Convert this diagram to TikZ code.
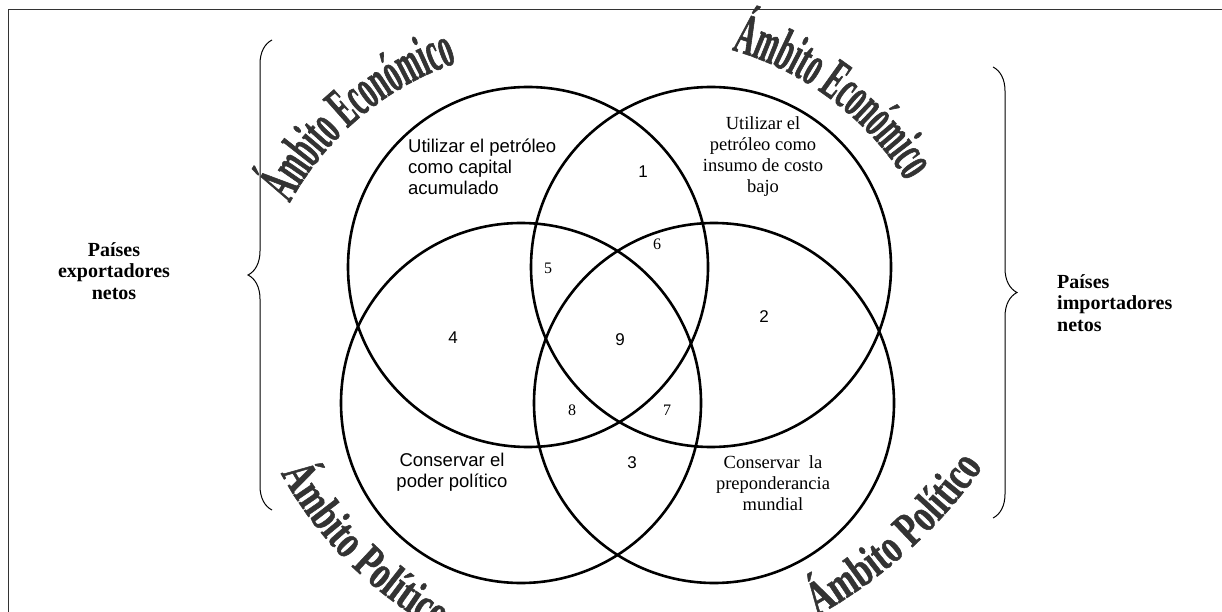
\documentclass[tikz,border=0pt]{standalone}
\usepackage{fontspec}
\setmainfont{Liberation Serif}
\newfontfamily\arialfont{Liberation Sans}
\newfontfamily\econfont[FakeStretch=0.47,FakeBold=1]{Liberation Serif}
\newfontfamily\polfont[FakeStretch=0.7,FakeBold=1]{Liberation Serif}
\usepackage{tikz}
\usetikzlibrary{decorations.text,decorations.pathreplacing,positioning,shapes}
\definecolor{wordart}{RGB}{51,51,51}

\begin{document}
\begin{tikzpicture}[x=1pt,y=1pt]

    \tikzstyle{ring} = [draw, circle, line width=2.6pt, minimum size=360pt, inner sep=0pt]
    \tikzstyle{sanstxt} = [font=\arialfont\fontsize{18.5}{21}\selectfont, inner sep=0pt]
    \tikzstyle{seriftxt} = [font=\fontsize{18.5}{21}\selectfont, align=center, inner sep=0pt]
    \tikzstyle{sansnum} = [font=\arialfont\fontsize{17}{17}\selectfont]
    \tikzstyle{serifnum} = [font=\fontsize{16}{16}\selectfont]
    \tikzstyle{pais} = [font=\bfseries\fontsize{20}{21.5}\selectfont, inner sep=0pt]
    \tikzstyle{arch} = [decorate, decoration={text along path, text align=center, text color=wordart}]
    \tikzstyle{llave} = [decorate, decoration={brace, amplitude=24pt}, line width=1pt]

    \useasboundingbox (0,0) rectangle (1222,611);
    \clip (0,0) rectangle (1222,611);

    % marco
    \draw [black!80, line width=1pt] (8,-5) -- (8,601) -- (1230,601);

    \draw
    (528,344) node [ring] (ecoX) {}
    (711,344) node [ring] (ecoM) {}
    (521,208) node [ring] (polX) {}
    (714,208) node [ring] (polM) {}
    ;

    \draw
    (408,444) node [sanstxt, anchor=west, align=left] (capital) {Utilizar el petróleo\\como capital\\acumulado}
    (763,454.5) node [seriftxt] (insumo) {Utilizar el\\petróleo como\\insumo de costo\\bajo}
    (452,138.5) node [sanstxt, align=center] (poder) {Conservar el\\poder político}
    (773,127.5) node [seriftxt] (prepond) {Conservar~ la\\preponderancia\\mundial}
    ;

    \draw
    (643,439) node [sansnum] (r1) {1}
    (764,294) node [sansnum] (r2) {2}
    (632,148) node [sansnum] (r3) {3}
    (453,273) node [sansnum] (r4) {4}
    (548,343) node [serifnum] (r5) {5}
    (657,367) node [serifnum] (r6) {6}
    (667,201) node [serifnum] (r7) {7}
    (572,201) node [serifnum] (r8) {8}
    (620,271) node [sansnum] (r9) {9}
    ;

    \coordinate (expoBot) at (272,101);
    \coordinate (expoTop) at (272,571);
    \coordinate (impoTop) at (993,544);
    \coordinate (impoBot) at (993,93);
    \draw [llave] (expoBot) -- (expoTop);
    \draw [llave] (impoTop) -- (impoBot);

    \draw
    (114,340) node [pais, align=center] (expo) {Países\\exportadores\\netos}
    (1057,308) node [pais, align=left, anchor=west] (impo) {Países\\importadores\\netos}
    ;

    \path [arch, decoration={text={|\econfont\bfseries\fontsize{58}{58}\selectfont|Ámbito Económico}}]
      (553,264) ++(155:300) arc [start angle=155, end angle=105, radius=300];
    \path [arch, decoration={text={|\econfont\bfseries\fontsize{58}{58}\selectfont|Ámbito Económico}}]
      (647,267) ++(78:306) arc [start angle=78, end angle=28, radius=306];
    \path [arch, decoration={text={|\polfont\bfseries\fontsize{48}{48}\selectfont|Ámbito Político}}]
      (631,331) ++(208:400) arc [start angle=208, end angle=242, radius=400];
    \path [arch, decoration={text={|\polfont\bfseries\fontsize{48}{48}\selectfont|Ámbito Político}}]
      (574,432) ++(-63:500) arc [start angle=-63, end angle=-33, radius=500];
  \end{tikzpicture}
\end{document}
